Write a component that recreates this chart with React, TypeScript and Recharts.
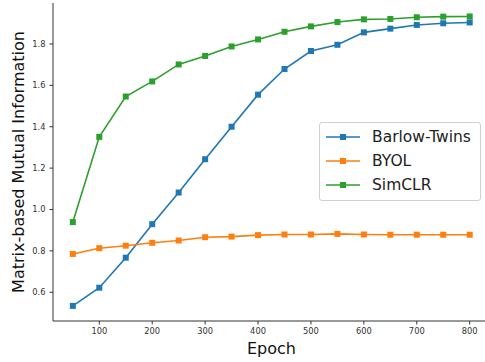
import { LineChart, Line, XAxis, YAxis, Label } from 'recharts'

const epochs = [50, 100, 150, 200, 250, 300, 350, 400, 450, 500, 550, 600, 650, 700, 750, 800]
const barlowTwins = [0.534, 0.622, 0.767, 0.929, 1.082, 1.243, 1.4, 1.555, 1.679, 1.766, 1.796, 1.856, 1.874, 1.892, 1.9, 1.904]
const byol = [0.785, 0.813, 0.825, 0.839, 0.85, 0.866, 0.869, 0.876, 0.879, 0.879, 0.882, 0.879, 0.878, 0.878, 0.878, 0.878]
const simclr = [0.939, 1.351, 1.546, 1.619, 1.701, 1.742, 1.788, 1.822, 1.859, 1.885, 1.906, 1.919, 1.921, 1.929, 1.932, 1.933]
const xTicks = [100, 200, 300, 400, 500, 600, 700, 800]
const yTicks = [0.6, 0.8, 1.0, 1.2, 1.4, 1.6, 1.8]

const series = [
  { key: 'barlow', name: 'Barlow-Twins', color: '#1f77b4' },
  { key: 'byol', name: 'BYOL', color: '#ff7f0e' },
  { key: 'simclr', name: 'SimCLR', color: '#2ca02c' },
]

const data = epochs.map((epoch, i) => ({
  epoch,
  barlow: barlowTwins[i],
  byol: byol[i],
  simclr: simclr[i],
}))

const FONT = 'DejaVu Sans, sans-serif'
const AXIS = '#333'

function squareDot(color: string) {
  return (props: any) => {
    const { cx, cy, index } = props
    if (cx == null || cy == null) return <g key={index} />
    return <rect key={index} x={cx - 3} y={cy - 3} width={6} height={6} fill={color} />
  }
}

// legend drawn as an overlay so it doesn't eat plot space
function LegendBox() {
  return (
    <div
      style={{
        position: 'absolute',
        left: 319,
        top: 122,
        width: 162,
        height: 79,
        border: '1px solid #d0d0d0',
        borderRadius: 3,
        background: 'rgba(255,255,255,0.8)',
        boxSizing: 'border-box',
        paddingTop: 2,
        fontFamily: FONT,
        fontSize: 15.5,
        color: '#222',
      }}
    >
      {series.map((s) => (
        <div key={s.key} style={{ display: 'flex', alignItems: 'center', height: 24 }}>
          <svg width={52} height={24} style={{ flex: 'none' }}>
            <line x1={6} x2={40} y1={12} y2={12} stroke={s.color} strokeWidth={1.6} />
            <rect x={20} y={9} width={6} height={6} fill={s.color} />
          </svg>
          <span>{s.name}</span>
        </div>
      ))}
    </div>
  )
}

export default function App() {
  return (
    <div style={{ position: 'absolute', left: 0, top: 0, width: 485, height: 362, background: '#fff' }}>
      <LineChart width={485} height={362} data={data} margin={{ top: 3, right: 0, left: 0, bottom: 0 }}>
        <XAxis
          dataKey="epoch"
          type="number"
          domain={[12.5, 828.9]}
          ticks={xTicks}
          allowDataOverflow
          height={41}
          tickSize={3.5}
          tickMargin={4}
          stroke={AXIS}
          tick={{ fill: AXIS, fontSize: 8.3, fontFamily: FONT }}
        >
          <Label
            value="Epoch"
            content={() => (
              <text x={271.4} y={354} textAnchor="middle" fontFamily={FONT} fontSize={16} fill="#111">
                Epoch
              </text>
            )}
          />
        </XAxis>
        <XAxis
          xAxisId="top"
          orientation="top"
          dataKey="epoch"
          type="number"
          domain={[12.5, 828.9]}
          height={0}
          tick={false}
          tickLine={false}
          stroke={AXIS}
        />
        <YAxis
          type="number"
          domain={[0.461, 1.998]}
          ticks={yTicks}
          allowDataOverflow
          width={53}
          tickSize={3.5}
          tickMargin={4}
          stroke={AXIS}
          tickFormatter={(v: number) => v.toFixed(1)}
          tick={{ fill: AXIS, fontSize: 8.3, fontFamily: FONT }}
        >
          <Label
            value="Matrix-based Mutual Information"
            content={() => (
              <text
                x={24}
                y={162}
                transform="rotate(-90, 24, 162)"
                textAnchor="middle"
                fontFamily={FONT}
                fontSize={16}
                fill="#111"
              >
                Matrix-based Mutual Information
              </text>
            )}
          />
        </YAxis>
        {series.map((s) => (
          <Line
            key={s.key}
            dataKey={s.key}
            name={s.name}
            stroke={s.color}
            strokeWidth={1.6}
            dot={squareDot(s.color)}
            activeDot={false}
            isAnimationActive={false}
          />
        ))}
      </LineChart>
      <LegendBox />
    </div>
  )
}
